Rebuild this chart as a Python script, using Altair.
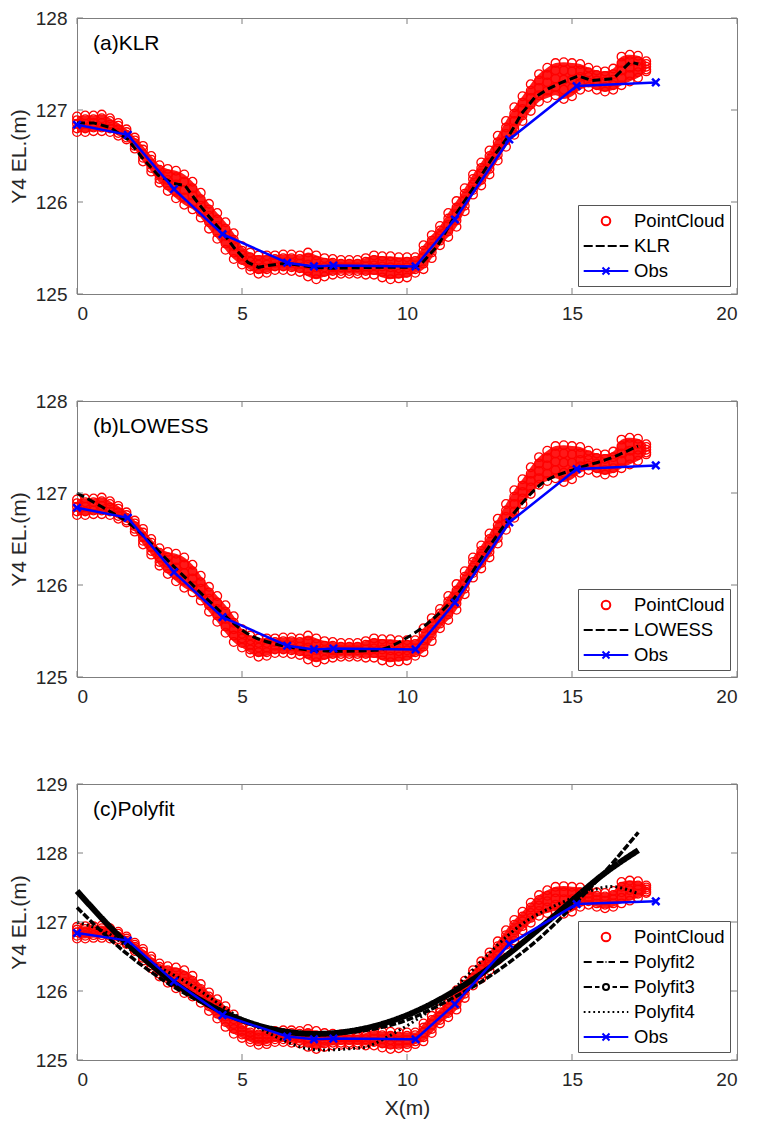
import altair as alt
import pandas as pd

# ---------------- data ----------------
x_ticks = [0, 5, 10, 15, 20]
y_ticks_ab = [125, 126, 127, 128]
y_ticks_c = [125, 126, 127, 128, 129]

obs_x = [0, 1.54, 2.94, 4.41, 6.37, 7.18, 7.77, 10.26, 11.45, 13.10, 15.14, 17.54]
obs_y = [126.84, 126.73, 126.14, 125.65, 125.34, 125.30, 125.31, 125.30, 125.81, 126.68, 127.26, 127.30]

klr_x = [0, 0.5, 1.0, 1.54, 2.0, 2.46, 2.94, 3.27, 3.58, 3.98, 4.41, 4.79, 5.19, 5.5, 5.8, 6.2, 6.6,
         7.18, 7.77, 9.03, 10.24, 10.44, 10.94, 11.45, 12.06, 12.57, 13.12, 13.47, 13.88, 14.28,
         14.69, 15.19, 15.6, 16.25, 16.76, 17.01]
klr_y = [126.86, 126.86, 126.81, 126.68, 126.47, 126.29, 126.20, 126.18, 126.03, 125.85, 125.67, 125.49,
         125.34, 125.29, 125.31, 125.33, 125.32, 125.29, 125.28, 125.29, 125.29, 125.33, 125.53, 125.85,
         126.18, 126.47, 126.74, 126.96, 127.14, 127.23, 127.30, 127.37, 127.32, 127.34, 127.52, 127.50]

lowess_x = [0, 0.75, 1.54, 2.94, 4.41, 5.0, 6.37, 7.18, 8.0, 9.03, 10.06, 10.65, 11.55, 12.36, 13.17,
            14.08, 15.09, 16.1, 17.0]
lowess_y = [127.00, 126.85, 126.68, 126.20, 125.69, 125.51, 125.33, 125.29, 125.28, 125.29, 125.44,
            125.59, 125.91, 126.35, 126.75, 127.10, 127.26, 127.37, 127.51]

poly_x = [0, 1, 2, 3, 4, 5, 6, 7, 8, 9, 10, 11, 12, 13, 14, 15, 16, 17.01]
poly2_y = [127.21, 126.75, 126.36, 126.04, 125.78, 125.58, 125.45, 125.39, 125.39, 125.45, 125.58,
           125.80, 126.06, 126.38, 126.76, 127.22, 127.73, 128.30]
poly3_y = [127.45, 126.93, 126.48, 126.10, 125.80, 125.58, 125.44, 125.38, 125.40, 125.49, 125.65,
           125.88, 126.17, 126.51, 126.90, 127.31, 127.71, 128.04]
poly4_x = [0, 1, 1.86, 3.27, 4.4, 5.0, 6.1, 7.21, 8.42, 9.03, 10.34, 11.55, 13.07, 14.28, 15.5, 16.3, 17.01]
poly4_y = [127.00, 126.82, 126.52, 126.14, 125.78, 125.60, 125.32, 125.15, 125.17, 125.24, 125.60,
           126.09, 126.81, 127.19, 127.44, 127.51, 127.41]

cloud_x = [0.00, 0.25, 0.50, 0.75, 1.00, 1.25, 1.50, 1.75, 2.00, 2.25, 2.50, 2.75, 3.00, 3.25, 3.50,
           3.75, 4.00, 4.25, 4.50, 4.75, 5.00, 5.25, 5.50, 5.75, 6.00, 6.25, 6.50, 6.75, 7.00, 7.25,
           7.50, 7.75, 8.00, 8.25, 8.50, 8.75, 9.00, 9.25, 9.50, 9.75, 10.00, 10.25, 10.50, 10.75,
           11.00, 11.25, 11.50, 11.75, 12.00, 12.25, 12.50, 12.75, 13.00, 13.25, 13.50, 13.75, 14.00,
           14.25, 14.50, 14.75, 15.00, 15.25, 15.50, 15.75, 16.00, 16.25, 16.50, 16.75, 17.00, 17.25]
cloud_top = [126.93, 126.94, 126.94, 126.95, 126.91, 126.86, 126.79, 126.70, 126.61, 126.50, 126.40,
             126.36, 126.34, 126.30, 126.22, 126.10, 125.98, 125.88, 125.78, 125.66, 125.52, 125.45,
             125.42, 125.42, 125.42, 125.43, 125.43, 125.42, 125.45, 125.42, 125.39, 125.38, 125.37,
             125.37, 125.37, 125.39, 125.42, 125.41, 125.41, 125.40, 125.40, 125.40, 125.53, 125.64,
             125.74, 125.88, 126.01, 126.15, 126.30, 126.43, 126.56, 126.72, 126.88, 127.03, 127.15,
             127.28, 127.39, 127.46, 127.51, 127.52, 127.51, 127.50, 127.46, 127.43, 127.42, 127.45,
             127.58, 127.60, 127.59, 127.53]
cloud_upper = [126.89, 126.90, 126.90, 126.91, 126.88, 126.83, 126.76, 126.67, 126.57, 126.46, 126.35,
               126.30, 126.27, 126.22, 126.15, 126.03, 125.92, 125.81, 125.71, 125.59, 125.47, 125.40,
               125.37, 125.37, 125.38, 125.39, 125.39, 125.38, 125.39, 125.36, 125.34, 125.34, 125.33,
               125.33, 125.33, 125.35, 125.37, 125.36, 125.35, 125.34, 125.35, 125.36, 125.47, 125.58,
               125.69, 125.82, 125.94, 126.09, 126.25, 126.37, 126.50, 126.65, 126.81, 126.96, 127.08,
               127.21, 127.32, 127.38, 127.43, 127.43, 127.42, 127.43, 127.41, 127.38, 127.37, 127.39,
               127.51, 127.53, 127.53, 127.50]
cloud_mid = [126.85, 126.85, 126.86, 126.86, 126.84, 126.79, 126.73, 126.64, 126.52, 126.41, 126.30,
             126.24, 126.19, 126.13, 126.07, 125.96, 125.85, 125.74, 125.63, 125.52, 125.42, 125.35,
             125.32, 125.32, 125.34, 125.34, 125.34, 125.33, 125.32, 125.29, 125.29, 125.29, 125.29,
             125.29, 125.29, 125.30, 125.31, 125.30, 125.29, 125.28, 125.29, 125.31, 125.40, 125.51,
             125.63, 125.75, 125.87, 126.02, 126.19, 126.31, 126.43, 126.58, 126.74, 126.88, 127.01,
             127.13, 127.24, 127.30, 127.34, 127.33, 127.33, 127.36, 127.36, 127.32, 127.31, 127.33,
             127.43, 127.46, 127.47, 127.47]
cloud_lower = [126.80, 126.80, 126.81, 126.81, 126.80, 126.75, 126.70, 126.61, 126.48, 126.37, 126.25,
               126.18, 126.11, 126.05, 125.99, 125.89, 125.78, 125.67, 125.55, 125.45, 125.37, 125.30,
               125.27, 125.27, 125.30, 125.30, 125.29, 125.28, 125.25, 125.22, 125.24, 125.25, 125.25,
               125.25, 125.25, 125.25, 125.26, 125.24, 125.22, 125.22, 125.23, 125.27, 125.33, 125.45,
               125.58, 125.68, 125.80, 125.96, 126.13, 126.24, 126.36, 126.51, 126.67, 126.80, 126.94,
               127.06, 127.16, 127.21, 127.25, 127.22, 127.24, 127.29, 127.30, 127.27, 127.25, 127.27,
               127.35, 127.38, 127.41, 127.44]
cloud_bot = [126.76, 126.76, 126.77, 126.77, 126.76, 126.72, 126.68, 126.58, 126.44, 126.33, 126.21,
             126.12, 126.04, 125.97, 125.92, 125.83, 125.71, 125.60, 125.48, 125.38, 125.32, 125.26,
             125.22, 125.23, 125.26, 125.26, 125.25, 125.24, 125.19, 125.16, 125.19, 125.21, 125.22,
             125.22, 125.22, 125.21, 125.21, 125.18, 125.16, 125.17, 125.18, 125.23, 125.27, 125.39,
             125.53, 125.62, 125.73, 125.90, 126.08, 126.18, 126.30, 126.45, 126.60, 126.73, 126.88,
             126.99, 127.09, 127.13, 127.16, 127.12, 127.15, 127.22, 127.25, 127.22, 127.20, 127.22,
             127.27, 127.31, 127.35, 127.42]

# ---------------- styling ----------------
W, H = 660, 276
FONT = "Liberation Sans"
BOX = "#7f7f7f"
RED = "#ff0000"
BLUE = "#0000ff"

X_PATH = "M-1,-1L1,1M-1,1L1,-1"
LEG_SHAPES = {
    "PointCloud": "M0.77,0A0.43,0.43 0 1,0 1.63,0A0.43,0.43 0 1,0 0.77,0Z",
    "dash": "M-1.03,0L-0.13,0M0.17,0L1.07,0M1.37,0L2.27,0M2.57,0L3.43,0",
    "Obs": "M-1.03,0L3.43,0M0.85,-0.35L1.55,0.35M0.85,0.35L1.55,-0.35",
    "Polyfit2": "M-1.03,0L-0.23,0M0.27,0L0.95,0M1.15,0L1.25,0M1.45,0L2.1,0M2.6,0L3.43,0",
    "Polyfit3": "M-1.03,0L-0.2,0M0.1,0L0.55,0M0.9,0A0.3,0.3 0 1,0 1.5,0A0.3,0.3 0 1,0 0.9,0M1.85,0L2.3,0M2.6,0L3.43,0",
    "Polyfit4": "M-1.03,0L-0.85,0M-0.55,0L-0.37,0M-0.07,0L0.11,0M0.41,0L0.59,0M0.89,0L1.07,0M1.37,0L1.55,0M1.85,0L2.03,0M2.33,0L2.51,0M2.81,0L2.99,0M3.29,0L3.43,0",
}


def xenc(show_title):
    return alt.X("x:Q", scale=alt.Scale(domain=[0, 20], nice=False),
                 axis=alt.Axis(values=x_ticks, title="X(m)" if show_title else None))


def yenc(dom, ticks):
    return alt.Y("y:Q", scale=alt.Scale(domain=dom, nice=False, zero=False),
                 axis=alt.Axis(values=ticks, title="Y4 EL.(m)"))


def panel(label, curves, dom, yt, legend_y, show_x_title):
    X = xenc(show_x_title)
    Y = yenc(dom, yt)
    band = pd.DataFrame({"x": cloud_x, "y": cloud_top, "y2": cloud_bot})
    cdf = pd.DataFrame({"x": cloud_x * 5,
                        "y": cloud_top + cloud_upper + cloud_mid + cloud_lower + cloud_bot})
    layers = [
        alt.Chart(band).mark_area(color=RED, opacity=0.9, interpolate="monotone").encode(
            x=X, y=Y, y2="y2:Q"),
        alt.Chart(cdf).mark_point(shape="circle", filled=False, color=RED, size=75,
                                  strokeWidth=1.3, opacity=1).encode(x=X, y=Y),
    ]
    names = ["PointCloud"]
    shapes = [LEG_SHAPES["PointCloud"]]
    colors = [RED]
    for name, xs, ys, style in curves:
        df = pd.DataFrame({"x": xs, "y": ys})
        layers.append(alt.Chart(df).mark_line(color="black", interpolate=style.get("interp", "linear"),
                                              strokeWidth=style["w"], strokeDash=style["dash"])
                      .encode(x=X, y=Y))
        names.append(name)
        shapes.append(LEG_SHAPES[style["leg"]])
        colors.append("black")
    odf = pd.DataFrame({"x": obs_x, "y": obs_y})
    layers.append(alt.Chart(odf).mark_line(color=BLUE, strokeWidth=2.5).encode(x=X, y=Y))
    layers.append(alt.Chart(odf).mark_point(shape=X_PATH, filled=False, color=BLUE, size=55,
                                            strokeWidth=2.5, opacity=1).encode(x=X, y=Y))
    names.append("Obs")
    shapes.append(LEG_SHAPES["Obs"])
    colors.append(BLUE)

    # inward ticks on all four sides (MATLAB box style)
    tx = alt.Chart(pd.DataFrame({"x": x_ticks}))
    ty = alt.Chart(pd.DataFrame({"y": yt}))
    layers += [
        tx.mark_rule(color=BOX, strokeWidth=1).encode(x=X, y=alt.value(0), y2=alt.value(6)),
        tx.mark_rule(color=BOX, strokeWidth=1).encode(x=X, y=alt.value(H - 6), y2=alt.value(H)),
        ty.mark_rule(color=BOX, strokeWidth=1).encode(y=Y, x=alt.value(0), x2=alt.value(6)),
        ty.mark_rule(color=BOX, strokeWidth=1).encode(y=Y, x=alt.value(W - 6), x2=alt.value(W)),
    ]

    # panel label
    layers.append(alt.Chart(pd.DataFrame({"t": [label]})).mark_text(
        align="left", baseline="middle", font=FONT, fontSize=21, color="black"
    ).encode(text="t:N", x=alt.value(16), y=alt.value(26)))

    # legend carrier (invisible marks; legend built from its scales)
    leg = alt.Legend(orient="none", legendX=501, legendY=legend_y, title=None,
                     padding=5, rowPadding=4, symbolSize=400, symbolStrokeWidth=2,
                     symbolOpacity=1, symbolFillColor="transparent",
                     labelFont=FONT, labelFontSize=18.5, labelColor="black", labelOffset=29,
                     strokeColor="#555555", fillColor="white", cornerRadius=0, labelLimit=300)
    layers.append(alt.Chart(pd.DataFrame({"series": names})).mark_point(opacity=0, filled=False).encode(
        x=alt.value(0), y=alt.value(0),
        color=alt.Color("series:N", scale=alt.Scale(domain=names, range=colors), legend=leg),
        shape=alt.Shape("series:N", scale=alt.Scale(domain=names, range=shapes), legend=leg),
    ))
    return alt.layer(*layers).properties(width=W, height=H)


p1 = panel("(a)KLR", [("KLR", klr_x, klr_y, {"w": 3, "dash": [8, 4], "leg": "dash"})],
           [125, 128], y_ticks_ab, 187, False)
p2 = panel("(b)LOWESS", [("LOWESS", lowess_x, lowess_y, {"w": 3, "dash": [8, 4], "leg": "dash",
                                                          "interp": "monotone"})],
           [125, 128], y_ticks_ab, 188, False)
p3 = panel("(c)Polyfit", [
    ("Polyfit2", poly_x, poly2_y, {"w": 3.5, "dash": [7, 2], "leg": "Polyfit2", "interp": "natural"}),
    ("Polyfit3", poly_x, poly3_y, {"w": 6, "dash": [1, 0], "leg": "Polyfit3", "interp": "natural"}),
    ("Polyfit4", poly4_x, poly4_y, {"w": 3, "dash": [2, 3], "leg": "Polyfit4", "interp": "natural"}),
], [125, 129], y_ticks_c, 137, True)

chart = alt.vconcat(p1, p2, p3, spacing=107, bounds="flush").resolve_scale(
    color="independent", shape="independent"
).resolve_legend(color="independent", shape="independent").properties(
    padding={"left": 7, "top": 8, "right": 5, "bottom": 5}, background="white"
).configure_view(stroke=BOX, strokeWidth=1).configure_axis(
    domain=False, ticks=False, grid=False, labelFont=FONT, titleFont=FONT,
    labelFontSize=19, titleFontSize=21, titleFontWeight="normal",
    labelColor="#262626", titleColor="#262626", labelPadding=10,
).configure_axisY(titlePadding=6).configure_axisX(titlePadding=8)

chart.save("out.html", embed_options={"renderer": "svg", "actions": False})
